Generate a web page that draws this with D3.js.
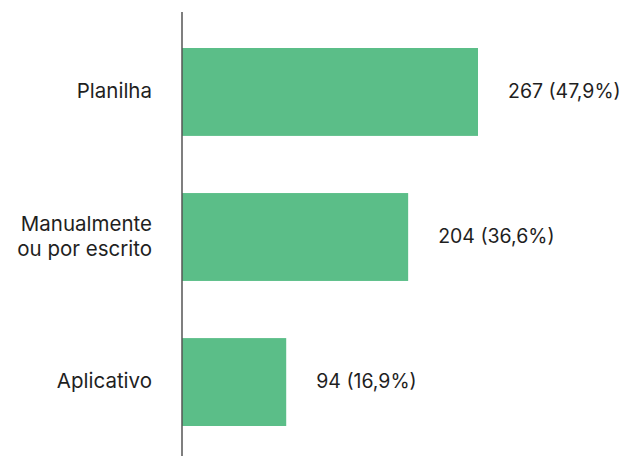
<!DOCTYPE html>
<html>
<head>
<meta charset="utf-8">
<script src="https://cdn.jsdelivr.net/npm/d3@7/dist/d3.min.js"></script>
<style>
  html, body { margin: 0; padding: 0; background: #fff; }
  svg { display: block; }
  text { font-family: Inter, "Noto Sans", sans-serif; fill: #1f1f1f; }
</style>
</head>
<body>
<div id="chart"></div>
<script>
// Categories (each entry is a list of lines), counts and shares
const categories = [["Planilha"], ["Manualmente", "ou por escrito"], ["Aplicativo"]];
const counts = [267, 204, 94];
const shares = ["47,9%", "36,6%", "16,9%"];

const width = 621, height = 456;
const axisX = 182;

const svg = d3.select("#chart").append("svg")
  .attr("width", width).attr("height", height);

const keys = categories.map(c => c.join(" "));

const x = d3.scaleLinear().domain([0, 267]).range([axisX, 478]);
const y = d3.scaleBand().domain(keys).range([19, 455]).paddingInner(0.394).paddingOuter(0.2);

const rows = keys.map((k, i) => ({ key: k, lines: categories[i], value: counts[i], share: shares[i] }));

svg.selectAll("rect.bar").data(rows).join("rect")
  .attr("class", "bar")
  .attr("x", x(0))
  .attr("y", d => y(d.key))
  .attr("width", d => x(d.value) - x(0))
  .attr("height", y.bandwidth())
  .attr("fill", "#5bbe88");

// Value labels to the right of each bar
svg.selectAll("text.value").data(rows).join("text")
  .attr("class", "value")
  .attr("x", d => x(d.value) + 30)
  .attr("y", d => y(d.key) + y.bandwidth() / 2)
  .attr("dy", "0.3em")
  .attr("font-size", 19.5)
  .text(d => `${d.value} (${d.share})`);

// Category labels, right-aligned left of the axis
const lineH = 25;
const cat = svg.selectAll("text.cat").data(rows).join("text")
  .attr("class", "cat")
  .attr("text-anchor", "end")
  .attr("font-size", 20.5)
  .attr("y", d => y(d.key) + y.bandwidth() / 2 - (d.lines.length - 1) * lineH / 2);
cat.selectAll("tspan").data(d => d.lines).join("tspan")
  .attr("x", axisX - 30)
  .attr("dy", (l, i) => i === 0 ? "0.3em" : lineH)
  .text(l => l);

// Vertical axis line
svg.append("line")
  .attr("x1", axisX).attr("x2", axisX)
  .attr("y1", 12).attr("y2", height)
  .attr("stroke", "#555").attr("stroke-width", 1.5);
</script>
</body>
</html>
